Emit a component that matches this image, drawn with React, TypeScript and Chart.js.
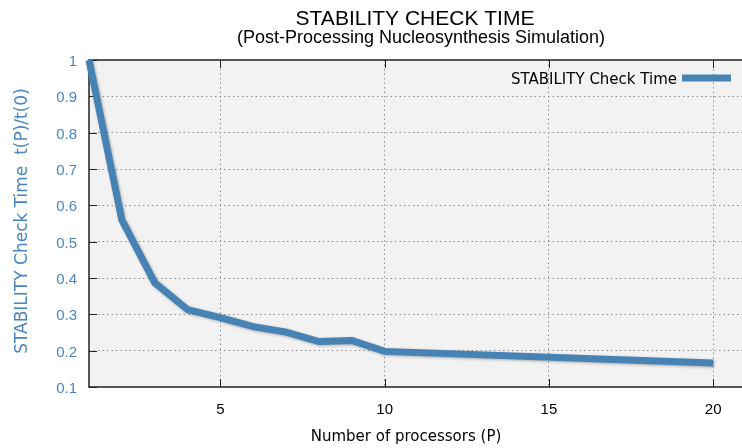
import { useEffect, useRef } from "react";
import { Chart, registerables } from "chart.js";

Chart.register(...registerables);

// Measured speed-up data: normalized check time vs. processor count
const PROCESSORS = [1, 2, 3, 4, 5, 6, 7, 8, 9, 10, 20];
const CHECK_TIME = [1.0, 0.56, 0.387, 0.313, 0.291, 0.266, 0.251, 0.225, 0.228, 0.198, 0.166];

const X_TICKS = [5, 10, 15, 20];
const Y_TICKS = [0.1, 0.2, 0.3, 0.4, 0.5, 0.6, 0.7, 0.8, 0.9, 1];

const TITLE = "STABILITY CHECK TIME";
const SUBTITLE = "(Post-Processing Nucleosynthesis Simulation)";
const X_LABEL = "Number of processors (P)";
const Y_LABEL = "STABILITY Check Time  t(P)/t(0)";
const SERIES_LABEL = "STABILITY Check Time";

const LINE_BLUE = "#4682b4";
const LABEL_BLUE = "#4a86be";
const FRAME = "#222222";
const GRID = "#8f8f8f";

const gnuplotLook = {
  id: "gnuplotLook",
  beforeDraw(chart: any) {
    const { ctx, chartArea: a, width, height } = chart;
    ctx.save();
    ctx.fillStyle = "#ffffff";
    ctx.fillRect(0, 0, width, height);
    ctx.fillStyle = "#f2f2f2";
    ctx.fillRect(a.left, a.top, a.right - a.left, a.bottom - a.top);
    ctx.restore();
  },
  beforeDatasetsDraw(chart: any) {
    const { ctx, chartArea: a } = chart;
    const xs = chart.scales.x;
    const ys = chart.scales.y;
    ctx.save();
    ctx.strokeStyle = FRAME;
    ctx.lineWidth = 1.5;
    ctx.strokeRect(a.left, a.top, a.right - a.left, a.bottom - a.top);
    ctx.lineWidth = 1;
    ctx.beginPath();
    const tl = 8;
    X_TICKS.forEach((v) => {
      const px = Math.round(xs.getPixelForValue(v)) + 0.5;
      ctx.moveTo(px, a.bottom);
      ctx.lineTo(px, a.bottom - tl);
      ctx.moveTo(px, a.top);
      ctx.lineTo(px, a.top + tl);
    });
    Y_TICKS.forEach((v) => {
      const py = Math.round(ys.getPixelForValue(v)) + 0.5;
      ctx.moveTo(a.left, py);
      ctx.lineTo(a.left + tl, py);
    });
    ctx.stroke();
    ctx.restore();
  },
  beforeDatasetDraw(chart: any) {
    const ctx = chart.ctx;
    ctx.save();
    ctx.shadowColor = "rgba(0,0,0,0.3)";
    ctx.shadowBlur = 3;
    ctx.shadowOffsetX = 1;
    ctx.shadowOffsetY = 1;
  },
  afterDatasetDraw(chart: any) {
    chart.ctx.restore();
  },
  afterDraw(chart: any) {
    const { ctx } = chart;
    ctx.save();
    // titles
    ctx.fillStyle = "#000000";
    ctx.textAlign = "center";
    ctx.textBaseline = "alphabetic";
    ctx.font = "21px 'Liberation Sans'";
    ctx.fillText(TITLE, 415, 25);
    ctx.font = "18px 'Liberation Sans'";
    ctx.fillText(SUBTITLE, 421, 43);
    // x axis label
    ctx.font = "15px 'DejaVu Sans'";
    ctx.fillText(X_LABEL, 406, 441);
    // y axis label
    ctx.save();
    ctx.translate(27, 221);
    ctx.rotate(-Math.PI / 2);
    ctx.fillStyle = LABEL_BLUE;
    ctx.font = "17px 'DejaVu Sans'";
    ctx.fillText(Y_LABEL, 0, 0);
    ctx.restore();
    // key
    ctx.fillStyle = "#000000";
    ctx.textAlign = "right";
    ctx.font = "15px 'DejaVu Sans'";
    ctx.fillText(SERIES_LABEL, 677, 84);
    ctx.strokeStyle = LINE_BLUE;
    ctx.lineWidth = 7;
    ctx.beginPath();
    ctx.moveTo(682, 78);
    ctx.lineTo(731, 78);
    ctx.stroke();
    ctx.restore();
  },
};

export default function App() {
  const canvasRef = useRef<HTMLCanvasElement | null>(null);

  useEffect(() => {
    const canvas = canvasRef.current;
    if (!canvas) return;
    const interior = (v: number, lo: number, hi: number) => v > lo && v < hi;
    const chart = new Chart(canvas, {
      type: "line",
      data: {
        datasets: [
          {
            label: SERIES_LABEL,
            data: PROCESSORS.map((p, i) => ({ x: p, y: CHECK_TIME[i] })),
            borderColor: LINE_BLUE,
            borderWidth: 7,
            pointRadius: 0,
            tension: 0,
            fill: false,
            clip: false as any,
            borderJoinStyle: "miter",
            borderCapStyle: "butt",
          },
        ],
      },
      options: {
        animation: false,
        responsive: false,
        events: [],
        layout: { padding: { top: 60, left: 0, right: 0, bottom: 0 } },
        plugins: {
          legend: { display: false },
          title: { display: false },
          tooltip: { enabled: false },
        },
        scales: {
          x: {
            type: "linear",
            min: 1,
            max: 21,
            afterBuildTicks: (s: any) => {
              s.ticks = X_TICKS.map((v) => ({ value: v }));
            },
            afterFit: (s: any) => {
              s.height = 61;
            },
            grid: {
              color: (c: any) => (interior(c.tick?.value, 1, 21) ? GRID : "transparent"),
              lineWidth: 1,
              drawTicks: false,
            },
            border: { display: false, dash: [1.5, 3] },
            ticks: {
              color: "#000000",
              font: { family: "Liberation Sans", size: 15 },
              padding: 14,
              maxRotation: 0,
            },
          },
          y: {
            type: "linear",
            min: 0.1,
            max: 1,
            afterBuildTicks: (s: any) => {
              s.ticks = Y_TICKS.map((v) => ({ value: v }));
            },
            afterFit: (s: any) => {
              s.width = 89;
            },
            grid: {
              color: (c: any) => (interior(c.tick?.value, 0.1, 1) ? GRID : "transparent"),
              lineWidth: 1,
              drawTicks: false,
            },
            border: { display: false, dash: [1.5, 3] },
            ticks: {
              color: LABEL_BLUE,
              font: { family: "Liberation Sans", size: 15 },
              padding: 12,
              labelOffset: 2,
              callback: (v: any) => String(v),
            },
          },
        },
      },
      plugins: [gnuplotLook],
    });
    return () => chart.destroy();
  }, []);

  return (
    <div
      style={{
        position: "fixed",
        left: 0,
        top: 0,
        width: 742,
        height: 448,
        overflow: "hidden",
        background: "#ffffff",
      }}
    >
      <canvas ref={canvasRef} width={746} height={448} style={{ display: "block" }} />
    </div>
  );
}
